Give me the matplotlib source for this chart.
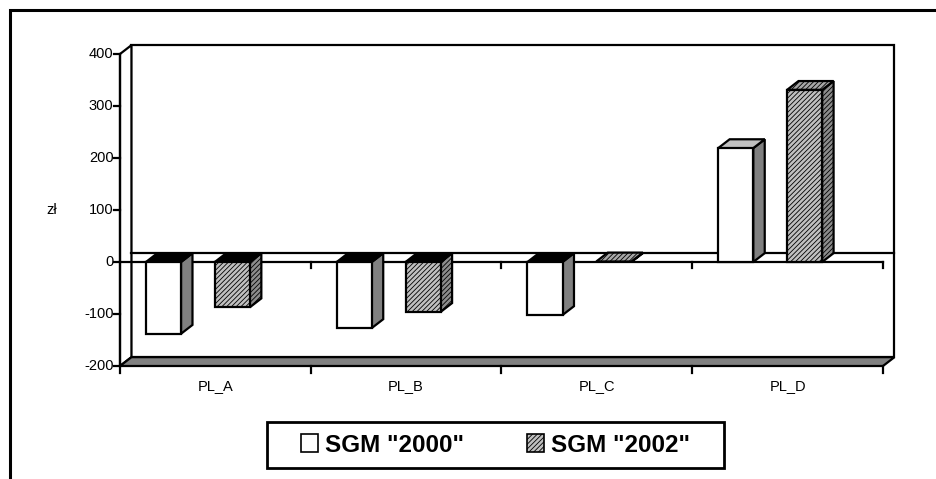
import matplotlib.pyplot as plt
from matplotlib.patches import Polygon, Rectangle, Patch

plt.rcParams['font.family'] = ['Liberation Sans', 'DejaVu Sans']
plt.rcParams['hatch.linewidth'] = 0.6

categories = ['PL_A', 'PL_B', 'PL_C', 'PL_D']
sgm_2000 = [-138, -127, -102, 219]
sgm_2002 = [-87, -96, 1, 331]
series_names = ['SGM "2000"', 'SGM "2002"']
yticks = [-200, -100, 0, 100, 200, 300, 400]

# depth of the 3-D walls / bars, in data units
DX = 0.06
DY = 17
BAR_W = 0.184
BAR_OFF = [0.136, 0.497]
LW = 1.6

fig = plt.figure(figsize=(9.37, 4.79), dpi=100)
W, H = 937, 479
px_x = 190.75  # pixels per category
px_y = 0.52    # pixels per value unit
ax = fig.add_axes([120 / W, 1 - 366 / H, (4 + DX) * px_x / W, (600 + DY) * px_y / H])
ax.set_xlim(0, 4 + DX)
ax.set_ylim(-200, 400 + DY)
ax.axis('off')

# outer chart frame
fig.patches.append(Rectangle((10 / W, -0.1), 1.2, 1 - 10 / H + 0.1, transform=fig.transFigure,
                             fill=False, edgecolor='black', linewidth=2.2))

ymin, ymax = -200, 400


def poly(pts, fc, hatch=None, z=2):
    p = Polygon(pts, closed=True, facecolor=fc, edgecolor='black', linewidth=LW,
                hatch=hatch, joinstyle='miter', clip_on=False, zorder=z)
    ax.add_patch(p)


# back wall, left wall, floor
poly([(DX, ymin + DY), (4 + DX, ymin + DY), (4 + DX, ymax + DY), (DX, ymax + DY)], 'white', z=1)
poly([(0, ymin), (DX, ymin + DY), (DX, ymax + DY), (0, ymax)], 'white', z=1)
poly([(0, ymin), (4, ymin), (4 + DX, ymin + DY), (DX, ymin + DY)], '#808080', z=1)

# zero plane
ax.plot([DX, 4 + DX], [DY, DY], color='black', lw=LW, clip_on=False, zorder=1.5)
ax.plot([0, 4], [0, 0], color='black', lw=LW, clip_on=False, zorder=1.5)
for i in range(1, 5):
    ax.plot([i, i], [0, -11], color='black', lw=LW, clip_on=False, zorder=1.5)
for i in range(0, 5):
    ax.plot([i, i], [ymin, ymin - 13], color='black', lw=LW, clip_on=False, zorder=1.5)

# value axis
for v in yticks:
    ax.plot([-0.032, 0], [v, v], color='black', lw=LW, clip_on=False, zorder=3)
    ax.text(-0.034, v, str(v), ha='right', va='center', fontsize=10.5)
ax.text(-0.36, 100, 'zł', ha='center', va='center', fontsize=10.5)

for i, c in enumerate(categories):
    ax.text(i + 0.5, ymin - 38, c, ha='center', va='center', fontsize=10.5)

styles = [
    dict(front='white', side='#808080', top='#c0c0c0', hatch=None),
    dict(front='#c0c0c0', side='#8c8c8c', top='#a8a8a8', hatch='///////'),
]

for s, vals in enumerate([sgm_2000, sgm_2002]):
    st = styles[s]
    for i, v in enumerate(vals):
        x0 = i + BAR_OFF[s]
        x1 = x0 + BAR_W
        hi = max(v, 0)
        lo = min(v, 0)
        # side face
        poly([(x1, lo), (x1 + DX, lo + DY), (x1 + DX, hi + DY), (x1, hi)], st['side'], st['hatch'], z=3)
        # top face (negative bars show a dark cap at zero)
        top_fc = st['top'] if v > 0 else ('black' if v < -5 else st['top'])
        top_h = st['hatch'] if v >= -5 else None
        poly([(x0, hi), (x0 + DX, hi + DY), (x1 + DX, hi + DY), (x1, hi)], top_fc, top_h, z=3)
        # front face
        if abs(v) > 3:
            poly([(x0, lo), (x1, lo), (x1, hi), (x0, hi)], st['front'], st['hatch'], z=4)

# front axis line on top
ax.plot([0, 0], [ymin, ymax], color='black', lw=LW, clip_on=False, zorder=5)

handles = [Patch(facecolor=styles[k]['front'], edgecolor='black', hatch=styles[k]['hatch'], linewidth=1.2)
           for k in range(2)]
leg = fig.legend(handles, series_names, loc='center', bbox_to_anchor=(495.5 / W, 1 - 445 / H),
                 ncol=2, frameon=False,
                 prop={'weight': 'bold', 'size': 17.5}, handlelength=0.7, handleheight=0.7,
                 handletextpad=0.3, columnspacing=2.6, borderpad=0.35, borderaxespad=0)
# legend box
fig.patches.append(Rectangle((267 / W, 1 - 468 / H), (724 - 267) / W, 46 / H,
                             transform=fig.transFigure, fill=False, edgecolor='black',
                             linewidth=2))

fig.savefig('out.png', dpi=100)
